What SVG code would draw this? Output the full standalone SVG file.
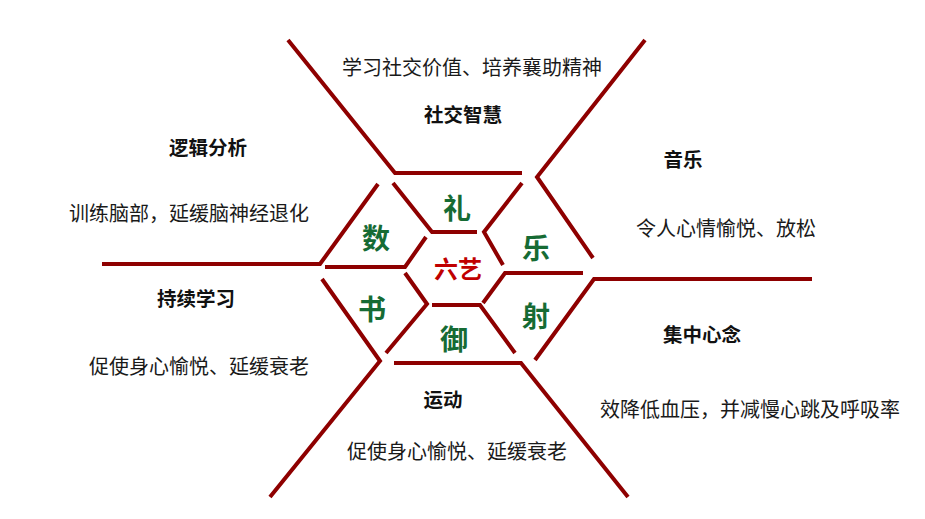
<svg xmlns="http://www.w3.org/2000/svg" width="925" height="519" viewBox="0 0 925 519">
<style>
.ln{fill:none;stroke:#8e0000;stroke-width:4;stroke-linejoin:miter}
text{font-family:"Noto Sans CJK SC","Liberation Sans",sans-serif;text-anchor:middle;dominant-baseline:central}
.d{font-size:20px;fill:#1a1a1a}
.h{font-size:19.5px;font-weight:bold;fill:#111}
.g{font-size:28px;font-weight:bold;fill:#166b34}
.c{font-size:24px;font-weight:bold;fill:#c00000}
</style>
<rect width="925" height="519" fill="#fff"/>
<g id="connectors">
<polyline class="ln" points="288,40 395,173 522,173"/>
<polyline class="ln" points="645,40 537,177 593,258"/>
<polyline class="ln" points="812,279 594,279 535,360"/>
<polyline class="ln" points="628,497 521,363 394,363"/>
<polyline class="ln" points="270,497 380,361 322,279"/>
<polyline class="ln" points="102,264 320,264 378,184"/>
<polyline class="ln" points="393,183 432,232 477,232"/>
<polyline class="ln" points="522,183 484,232 503,265"/>
<polyline class="ln" points="583,273 505,273 483,303"/>
<polyline class="ln" points="515,353 480,305 432,305"/>
<polyline class="ln" points="386,353 427,304 405,273"/>
<polyline class="ln" points="325,267 405,267 426,237"/>
</g>
<g id="center"><text class="c" x="458" y="267">六艺</text></g>
<g id="li"><text class="g" x="457" y="207">礼</text></g>
<g id="shu"><text class="g" x="376" y="237">数</text></g>
<g id="yue"><text class="g" x="536" y="247">乐</text></g>
<g id="shu2"><text class="g" x="372" y="308">书</text></g>
<g id="she"><text class="g" x="536" y="315">射</text></g>
<g id="yu"><text class="g" x="454" y="338">御</text></g>
<g id="social">
<text class="d" x="472" y="66">学习社交价值、培养襄助精神</text>
<text class="h" x="463" y="113">社交智慧</text>
</g>
<g id="logic">
<text class="h" x="208" y="146">逻辑分析</text>
<text class="d" x="189" y="212">训练脑部，延缓脑神经退化</text>
</g>
<g id="learn">
<text class="h" x="196" y="297">持续学习</text>
<text class="d" x="199" y="365">促使身心愉悦、延缓衰老</text>
</g>
<g id="music">
<text class="h" x="683" y="158">音乐</text>
<text class="d" x="726" y="227">令人心情愉悦、放松</text>
</g>
<g id="focus">
<text class="h" x="702" y="333">集中心念</text>
<text class="d" x="750" y="408">效降低血压，并减慢心跳及呼吸率</text>
</g>
<g id="sport">
<text class="h" x="443" y="398">运动</text>
<text class="d" x="457" y="450">促使身心愉悦、延缓衰老</text>
</g>
</svg>
